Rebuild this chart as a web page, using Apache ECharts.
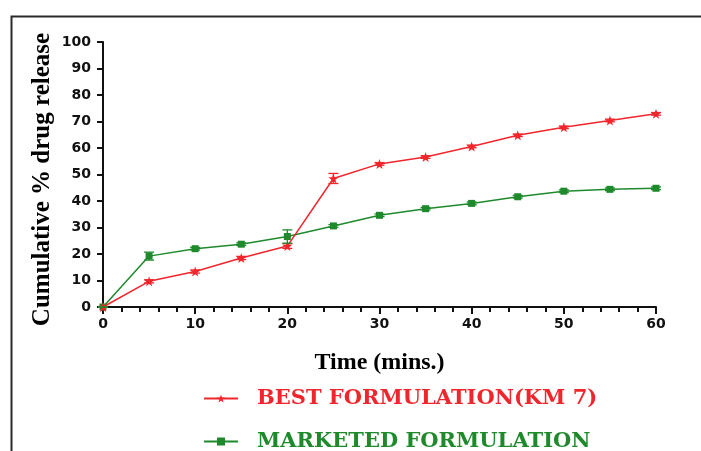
<!DOCTYPE html>
<html>
<head>
<meta charset="utf-8">
<script src="https://cdn.jsdelivr.net/npm/echarts@6/dist/echarts.min.js"></script>
<style>html,body{margin:0;padding:0;background:#fff;}#c{width:701px;height:451px;}</style>
</head>
<body>
<div id="c"></div>
<script>
var times = [0, 5, 10, 15, 20, 25, 30, 35, 40, 45, 50, 55, 60];
var bestValues = [0, 9.7, 13.4, 18.5, 23.0, 48.5, 54.0, 56.6, 60.6, 64.8, 67.8, 70.4, 72.9];
var bestErrors = [0, 0.6, 0.6, 0.6, 0.9, 1.9, 0.5, 0.5, 0.5, 0.5, 0.5, 0.5, 0.5];
var marketedValues = [0, 19.2, 22.0, 23.7, 26.6, 30.6, 34.6, 37.1, 39.1, 41.6, 43.7, 44.4, 44.8];
var marketedErrors = [0, 1.5, 0.5, 0.5, 2.5, 0.5, 0.5, 0.5, 0.5, 0.5, 0.5, 0.5, 0.5];
var yTicks = [0, 10, 20, 30, 40, 50, 60, 70, 80, 90, 100];
var xTicks = [0, 10, 20, 30, 40, 50, 60];
var seriesNames = ['BEST FORMULATION(KM 7)', 'MARKETED FORMULATION'];

var RED = '#f0262c';
var GREEN = '#1e8a2c';
var STAR = 'path://M0,-10 L2.35,-3.24 L9.51,-3.09 L3.8,1.24 L5.88,8.09 L0,4 L-5.88,8.09 L-3.8,1.24 L-9.51,-3.09 L-2.35,-3.24 Z';

function pairs(v) { return times.map(function (t, i) { return [t, v[i]]; }); }
function errData(v, e) { return times.map(function (t, i) { return [t, v[i] - e[i], v[i] + e[i]]; }); }
function errRender(color) {
  return function (params, api) {
    var lo = api.coord([api.value(0), api.value(1)]);
    var hi = api.coord([api.value(0), api.value(2)]);
    var w = 5;
    var s = { stroke: color, lineWidth: 1.3 };
    return { type: 'group', children: [
      { type: 'line', shape: { x1: lo[0], y1: lo[1], x2: hi[0], y2: hi[1] }, style: s },
      { type: 'line', shape: { x1: lo[0] - w, y1: lo[1], x2: lo[0] + w, y2: lo[1] }, style: s },
      { type: 'line', shape: { x1: hi[0] - w, y1: hi[1], x2: hi[0] + w, y2: hi[1] }, style: s }
    ] };
  };
}

var legendText = { fontFamily: 'DejaVu Serif', fontWeight: 'bold', fontSize: 21, padding: [0, 0, 0, 14] };

var chart = echarts.init(document.getElementById('c'), null, { renderer: 'canvas' });
chart.setOption({
  animation: false,
  backgroundColor: '#fff',
  graphic: [{
    type: 'rect', left: 9, top: 14, silent: true,
    shape: { x: 0, y: 0, width: 760, height: 500 },
    style: { fill: 'none', stroke: '#2a2a2a', lineWidth: 2 }
  }],
  grid: { left: 103, right: 45, top: 42, bottom: 144, containLabel: false },
  legend: [
    {
      orient: 'vertical', left: 203, top: 388, padding: 0,
      itemWidth: 34, itemHeight: 10,
      data: [{ name: seriesNames[0], textStyle: { color: RED } }],
      textStyle: legendText
    },
    {
      orient: 'vertical', left: 203, top: 431, padding: 0,
      itemWidth: 34, itemHeight: 10,
      data: [{ name: seriesNames[1], textStyle: { color: GREEN } }],
      textStyle: legendText
    }
  ],
  xAxis: {
    type: 'value', min: 0, max: 60, interval: 10,
    name: 'Time (mins.)', nameLocation: 'middle', nameGap: 44, nameMoveOverlap: false,
    nameTextStyle: { fontFamily: 'Liberation Serif', fontWeight: 'bold', fontSize: 24, color: '#000' },
    axisLine: { show: true, lineStyle: { color: '#111', width: 2 } },
    axisTick: { show: true, length: 7, lineStyle: { color: '#111', width: 2 } },
    minorTick: { show: true, splitNumber: 5, length: 5, lineStyle: { color: '#111', width: 2 } },
    splitLine: { show: false },
    axisLabel: {
      margin: 10, fontFamily: 'DejaVu Sans', fontWeight: 'bold', fontSize: 14, color: '#111',
      customValues: xTicks
    }
  },
  yAxis: {
    type: 'value', min: 0, max: 100, interval: 10,
    name: 'Cumulative % drug release', nameLocation: 'middle', nameGap: 48, nameMoveOverlap: false,
    nameTextStyle: { fontFamily: 'Liberation Serif', fontWeight: 'bold', fontSize: 25, color: '#000', padding: [0, 10, 0, 0] },
    axisLine: { show: true, lineStyle: { color: '#111', width: 2 } },
    axisTick: { show: true, length: 6, lineStyle: { color: '#111', width: 2 } },
    splitLine: { show: false },
    axisLabel: {
      margin: 12, fontFamily: 'DejaVu Sans', fontWeight: 'bold', fontSize: 14, color: '#111',
      customValues: yTicks
    }
  },
  series: [
    {
      name: seriesNames[0], type: 'line', data: pairs(bestValues),
      symbol: STAR, symbolSize: 10, showSymbol: true,
      lineStyle: { color: RED, width: 1.5 }, itemStyle: { color: RED }, z: 3
    },
    {
      name: seriesNames[1], type: 'line', data: pairs(marketedValues),
      symbol: 'rect', symbolSize: 7, showSymbol: true,
      lineStyle: { color: GREEN, width: 1.5 }, itemStyle: { color: GREEN }, z: 2
    },
    {
      type: 'custom', name: 'best-err', data: errData(bestValues, bestErrors),
      renderItem: errRender(RED), encode: { x: 0, y: [1, 2] }, z: 4, silent: true
    },
    {
      type: 'custom', name: 'marketed-err', data: errData(marketedValues, marketedErrors),
      renderItem: errRender(GREEN), encode: { x: 0, y: [1, 2] }, z: 4, silent: true
    }
  ]
});
</script>
</body>
</html>
